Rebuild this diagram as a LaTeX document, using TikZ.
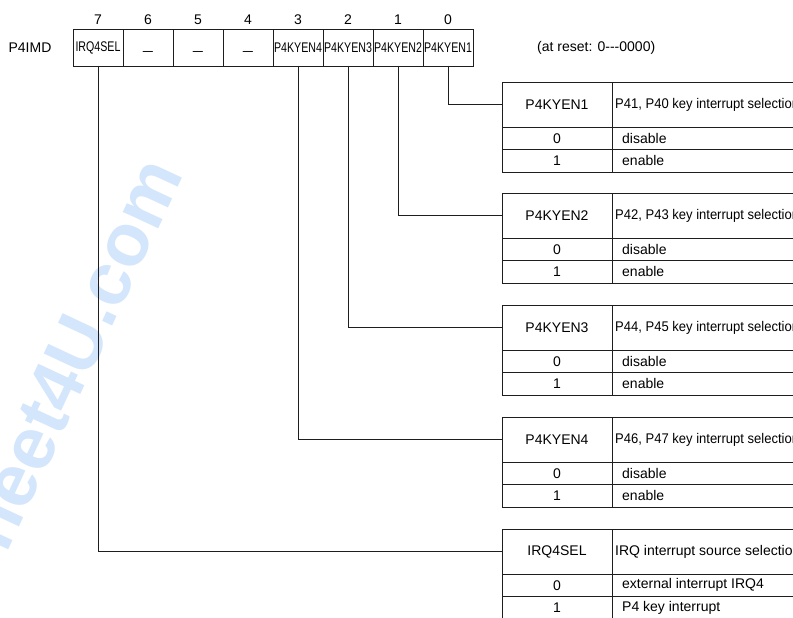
\documentclass[tikz,border=0pt]{standalone}
\usepackage{fontspec}
\setmainfont{Liberation Sans}
\usepackage{graphicx}
\definecolor{wmblue}{RGB}{212,230,252}
\definecolor{lncol}{RGB}{30,30,30}
\newcommand\regtab[7]{%
  \node[cellA, minimum height=45pt] (#1h) at (502,#2) {#3};
  \node[cellB, minimum height=45pt] (#1hd) at (612,#2) {};
  \node[anchor=west, inner sep=0pt] (#1hdt) at (615,{#2+22.5}) {\scalebox{#7}[1]{#4}};
  \node[cellA, minimum height=22.5pt] (#1a) at (502,{#2+45}) {0};
  \node[cellB, minimum height=22.5pt] (#1ad) at (612,{#2+45}) {};
  \node[anchor=west, inner sep=0pt] (#1adt) at (622,{#2+56.25}) {#5};
  \node[cellA, minimum height=22.5pt] (#1b) at (502,{#2+67.5}) {1};
  \node[cellB, minimum height=22.5pt] (#1bd) at (612,{#2+67.5}) {};
  \node[anchor=west, inner sep=0pt] (#1bdt) at (622,{#2+78.75}) {#6};
}
\newcommand\bitdash{\smash{\raisebox{-8.5pt}{\scalebox{1.3}[1]{–}}}}
\begin{document}
\begin{tikzpicture}[x=1pt,y=-1pt,
  font=\fontsize{14}{16}\selectfont,
  ln/.style={line width=0.9pt, draw=lncol},
  bitcell/.style={ln, minimum width=50pt, minimum height=37pt, inner sep=0pt, outer sep=0pt},
  cellA/.style={ln, anchor=north west, minimum width=110pt, inner sep=0pt, outer sep=0pt},
  cellB/.style={ln, anchor=north west, minimum width=300pt, inner sep=0pt, outer sep=0pt},
  wm/.style={text=wmblue, font=\fontsize{74}{84}\selectfont\bfseries, inner sep=0pt},
  conn/.style={ln}]
\useasboundingbox (0,0) rectangle (793,618);
\clip (0,0) rectangle (793,618);
\fill[white] (0,0) rectangle (793,618);
% watermark
\node[wm, rotate=65, anchor=base east] (wmark) at (184,174) {DataSheet4U.com};
% register
\node (p4imd) at (30,48) {P4IMD};
\foreach \b in {0,...,7} {
  \node (n\b) at ({98+50*(7-\b)},20) {\b};
}
\node[bitcell] (b7) at (98,47.5) {\scalebox{0.76}[1]{IRQ4SEL}};
\node[bitcell] (b6) at (148,47.5) {\bitdash};
\node[bitcell] (b5) at (198,47.5) {\bitdash};
\node[bitcell] (b4) at (248,47.5) {\bitdash};
\node[bitcell] (b3) at (298,47.5) {\scalebox{0.76}[1]{P4KYEN4}};
\node[bitcell] (b2) at (348,47.5) {\scalebox{0.76}[1]{P4KYEN3}};
\node[bitcell] (b1) at (398,47.5) {\scalebox{0.76}[1]{P4KYEN2}};
\node[bitcell] (b0) at (448,47.5) {\scalebox{0.76}[1]{P4KYEN1}};
\node[anchor=west, inner sep=0pt] (reset) at (537,48) {(at reset: 0-{}-{}-0000)};
% tables
\regtab{ta}{82}{P4KYEN1}{P41, P40 key interrupt selection}{disable}{enable}{0.93}
\regtab{tb}{193}{P4KYEN2}{P42, P43 key interrupt selection}{disable}{enable}{0.93}
\regtab{tc}{305}{P4KYEN3}{P44, P45 key interrupt selection}{disable}{enable}{0.93}
\regtab{td}{417}{P4KYEN4}{P46, P47 key interrupt selection}{disable}{enable}{0.93}
\regtab{te}{529}{IRQ4SEL}{IRQ interrupt source selection}{external interrupt IRQ4}{P4 key interrupt}{1}
% connectors
\draw[conn] (b0.south) |- (tah.west);
\draw[conn] (b1.south) |- (tbh.west);
\draw[conn] (b2.south) |- (tch.west);
\draw[conn] (b3.south) |- (tdh.west);
\draw[conn] (b7.south) |- (teh.west);
\end{tikzpicture}
\end{document}
